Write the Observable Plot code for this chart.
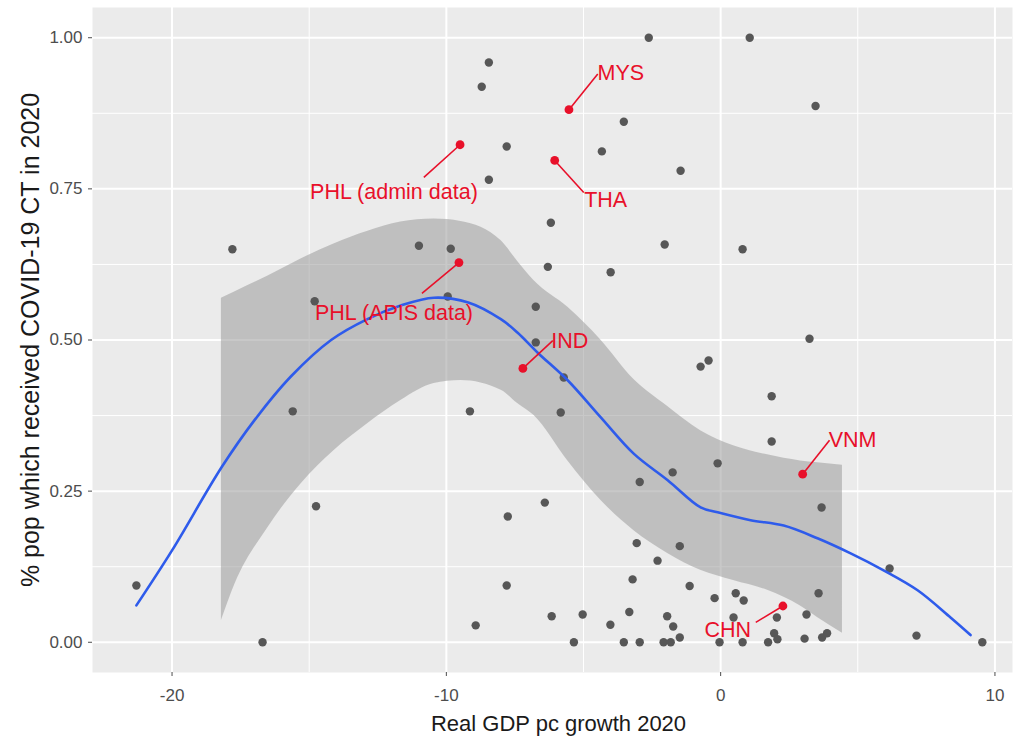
<!DOCTYPE html>
<html>
<head>
<meta charset="utf-8">
<script src="https://cdn.jsdelivr.net/npm/d3@7"></script>
<script src="https://cdn.jsdelivr.net/npm/@observablehq/plot@0.6"></script>
<style>
  html, body { margin: 0; padding: 0; background: #ffffff; }
  #chart { width: 1020px; height: 740px; }
</style>
</head>
<body>
<div id="chart"></div>
<script>
// ---- Data ----
// Gray points: real GDP per-capita growth 2020 (x) vs share of population receiving COVID-19 CT (y)
const gdpGrowth = [
  -8.45, -8.71, -7.80, -8.45, -17.8, -11.0, -9.84, -14.8, -9.95, -2.62,
   1.06,  3.46, -3.53, -4.33, -1.46, -6.19, -2.04,  0.80, -6.30, -4.01,
  -6.74, -6.74,  3.24, -0.44, -0.73, -15.6, -9.14, -14.75, -7.76, -21.3,
  -7.80, -8.93, -16.7,  1.86, -5.83,  1.86, -0.11, -1.75, -2.95, -6.41,
   3.68, -3.06, -1.49, -2.30,  6.16, -3.21, -1.13, -0.22,  0.55,  0.84,
   3.57, -6.16, -5.03, -3.33, -1.95,  0.47,  2.05,  3.13, -4.02, -1.73,
  -1.49,  1.95,  2.07,  3.06,  3.70,  3.88,  7.14, -5.35, -3.53, -2.95,
  -2.08, -1.82, -0.04,  0.80,  1.73,  9.54, -5.72
];
const ctShare = [
  0.959, 0.919, 0.820, 0.765, 0.650, 0.656, 0.651, 0.564, 0.572, 1.000,
  1.000, 0.887, 0.861, 0.812, 0.780, 0.694, 0.658, 0.650, 0.621, 0.612,
  0.555, 0.496, 0.502, 0.466, 0.456, 0.382, 0.382, 0.225, 0.208, 0.094,
  0.094, 0.028, 0.000, 0.407, 0.380, 0.332, 0.296, 0.281, 0.265, 0.231,
  0.223, 0.164, 0.159, 0.135, 0.122, 0.104, 0.093, 0.073, 0.081, 0.069,
  0.081, 0.043, 0.046, 0.050, 0.043, 0.041, 0.041, 0.046, 0.029, 0.026,
  0.008, 0.015, 0.005, 0.006, 0.008, 0.015, 0.011, 0.000, 0.000, 0.000,
  0.000, 0.000, 0.000, 0.000, 0.000, 0.000, 0.438
];

// Highlighted countries
const hlNames  = ["MYS", "THA", "PHL (admin data)", "PHL (APIS data)", "IND", "VNM", "CHN"];
const hlGrowth = [-5.53, -6.05, -9.50, -9.54, -7.21, 2.99, 2.27];
const hlShare  = [0.881, 0.797, 0.823, 0.628, 0.453, 0.278, 0.060];
// label anchor (text centre) and leader-line end, in data units
const labelGrowth = [-3.64, -4.19, -11.91, -11.91, -5.50, 4.81, 0.26];
const labelShare  = [0.942, 0.732, 0.745, 0.545, 0.498, 0.334, 0.020];
const leaderGrowth = [-4.48, -4.99, -10.82, -10.89, -6.12, 3.97, 1.28];
const leaderShare  = [0.940, 0.744, 0.769, 0.577, 0.499, 0.334, 0.033];

// Smoothed (loess) curve
const smoothX = [-21.3, -20.0, -18.2, -17.0, -15.66, -14.2, -12.86, -11.66, -10.45,
                 -9.2, -8.0, -7.4, -6.67, -5.57, -4.37, -3.17, -1.93, -0.73, -0.11,
                 1.09, 2.30, 3.53, 4.74, 5.94, 7.18, 8.38, 9.11];
const smoothY = [0.061, 0.152, 0.289, 0.367, 0.440, 0.500, 0.535, 0.557, 0.570,
                 0.562, 0.534, 0.512, 0.479, 0.433, 0.372, 0.312, 0.268, 0.223, 0.215,
                 0.202, 0.193, 0.172, 0.147, 0.119, 0.086, 0.041, 0.012];

// Confidence band
const bandX    = [-18.2, -17.7, -16.5, -15.3, -14.1, -12.86, -11.66, -10.45, -9.47, -8.0,
                  -7.4, -6.8, -5.57, -4.37, -3.17, -1.93, -0.73, 0.47, 1.71, 2.91, 3.53, 4.44];
const bandHigh = [0.569, 0.580, 0.606, 0.634, 0.659, 0.680, 0.695, 0.700, 0.696, 0.664,
                  0.630, 0.598, 0.554, 0.500, 0.435, 0.390, 0.350, 0.325, 0.310, 0.300, 0.297, 0.293];
const bandLow  = [0.036, 0.097, 0.190, 0.262, 0.317, 0.362, 0.400, 0.428, 0.433, 0.417,
                  0.395, 0.375, 0.300, 0.235, 0.185, 0.147, 0.119, 0.102, 0.086, 0.060, 0.041, 0.015];

// Axes
const xTicks = [-20, -10, 0, 10];
const xMinor = [-15, -5, 5];
const yTicks = [0, 0.25, 0.5, 0.75, 1];
const yMinor = [0.125, 0.375, 0.625, 0.875];
const xTitle = "Real GDP pc growth 2020";
const yTitle = "% pop which received COVID-19 CT in 2020";

// ---- Build tables ----
const points = gdpGrowth.map((g, i) => ({g, s: ctShare[i]}));
const smooth = smoothX.map((g, i) => ({g, s: smoothY[i]}));
const band = bandX.map((g, i) => ({g, lo: bandLow[i], hi: bandHigh[i]}));
const hl = hlNames.map((n, i) => ({
  name: n, g: hlGrowth[i], s: hlShare[i],
  lg: labelGrowth[i], ls: labelShare[i],
  eg: leaderGrowth[i], es: leaderShare[i]
}));

const RED = "#E8102A";
const TEXT_GRAY = "#4D4D4D";

const chart = Plot.plot({
  width: 1020,
  height: 740,
  marginLeft: 92,
  marginRight: 8,
  marginTop: 7,
  marginBottom: 68,
  style: {fontFamily: "'Liberation Sans', Arial, sans-serif", background: "#ffffff"},
  x: {domain: [-22.9, 10.64]},
  y: {domain: [-0.05, 1.05]},
  marks: [
    Plot.frame({fill: "#EBEBEB", stroke: null}),
    Plot.ruleX(xMinor, {stroke: "#ffffff", strokeWidth: 1}),
    Plot.ruleY(yMinor, {stroke: "#ffffff", strokeWidth: 1}),
    Plot.ruleX(xTicks, {stroke: "#ffffff", strokeWidth: 2}),
    Plot.ruleY(yTicks, {stroke: "#ffffff", strokeWidth: 2}),
    Plot.axisX({ticks: xTicks, tickFormat: d => String(d), tickSize: 4, tickPadding: 12, fontSize: 17, color: TEXT_GRAY, label: null}),
    Plot.axisY({ticks: yTicks, tickFormat: d3.format(".2f"), tickSize: 4, tickPadding: 6, fontSize: 17, color: TEXT_GRAY, label: null}),
    Plot.areaY(band, {x: "g", y1: "lo", y2: "hi", fill: "#9A9A9A", fillOpacity: 0.55, curve: "monotone-x"}),
    Plot.dot(points, {x: "g", y: "s", r: 4.2, fill: "#575757", stroke: null}),
    Plot.line(smooth, {x: "g", y: "s", stroke: "#2E5BEB", strokeWidth: 2.6, curve: "catmull-rom"}),
    Plot.link(hl, {x1: "g", y1: "s", x2: "eg", y2: "es", stroke: RED, strokeWidth: 1.6}),
    Plot.dot(hl, {x: "g", y: "s", r: 4.4, fill: RED, stroke: null}),
    Plot.text(hl, {x: "lg", y: "ls", text: "name", fill: RED, fontSize: 21.5, textAnchor: "middle"}),
    Plot.text([xTitle], {frameAnchor: "bottom", dy: 51, dx: 6, fontSize: 22, fill: "#1a1a1a", textAnchor: "middle", lineAnchor: "middle"}),
    Plot.text([yTitle], {frameAnchor: "left", dx: -62, rotate: -90, fontSize: 25, fill: "#1a1a1a", textAnchor: "middle", lineAnchor: "middle"})
  ]
});

document.getElementById("chart").appendChild(chart);
</script>
</body>
</html>
